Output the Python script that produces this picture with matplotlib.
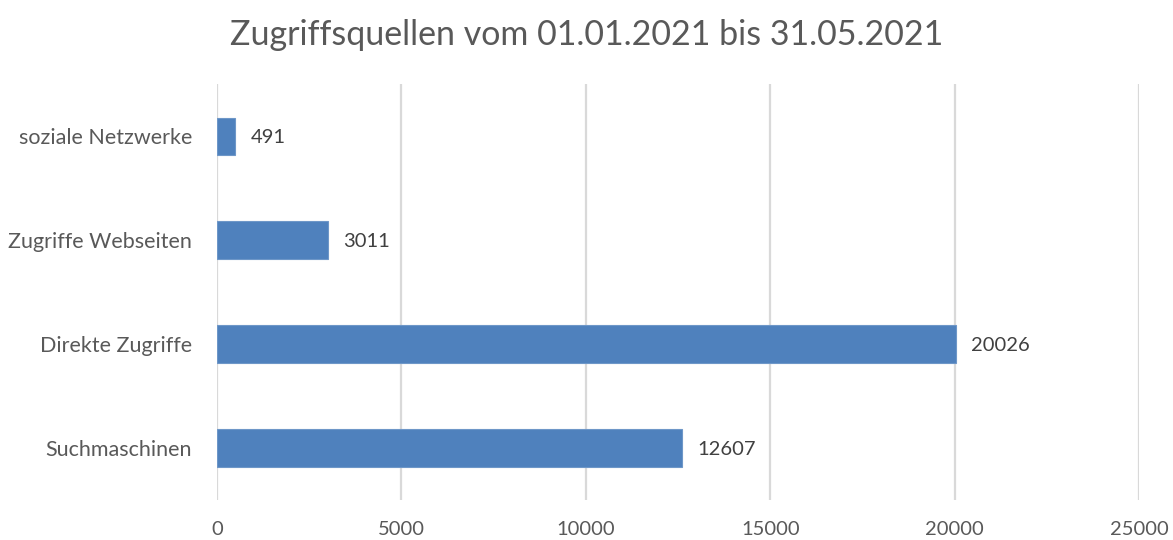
import matplotlib
matplotlib.use("Agg")
from matplotlib import pyplot as plt

categories = ["Suchmaschinen", "Direkte Zugriffe", "Zugriffe Webseiten", "soziale Netzwerke"]
values = [12607, 20026, 3011, 491]
xticks = [0, 5000, 10000, 15000, 20000, 25000]

plt.rcParams["font.family"] = ["Lato", "DejaVu Sans"]

fig = plt.figure(figsize=(11.73, 5.40), dpi=100)
ax = fig.add_axes([0.185, 0.074, 0.786, 0.770])

bars = ax.barh(range(len(categories)), values, height=0.36,
               color="#4f81bd", edgecolor="#6e97c8", linewidth=0.8, zorder=3)
for b, v in zip(bars, values):
    ax.annotate(str(v), (b.get_width(), b.get_y() + b.get_height() / 2),
                xytext=(11, -1), textcoords="offset points",
                va="center", ha="left", fontsize=14.5, color="#404040")

ax.set_xlim(0, 25000)
ax.set_ylim(-0.5, len(categories) - 0.5)
ax.set_xticks(xticks)
ax.set_xticklabels([str(t) for t in xticks])
ax.set_yticks(range(len(categories)))
ax.set_yticklabels(categories)
ax.tick_params(axis="x", length=0, pad=15, labelsize=14.5, labelcolor="#595959")
ax.tick_params(axis="y", length=0, pad=18, labelsize=15.5, labelcolor="#595959")
ax.grid(axis="x", color="#d9d9d9", linewidth=1.6, zorder=0)
for s in ax.spines.values():
    s.set_visible(False)

fig.suptitle("Zugriffsquellen vom 01.01.2021 bis 31.05.2021",
             fontsize=24.5, color="#595959", y=0.965)

plt.savefig("out.png", dpi=100)
